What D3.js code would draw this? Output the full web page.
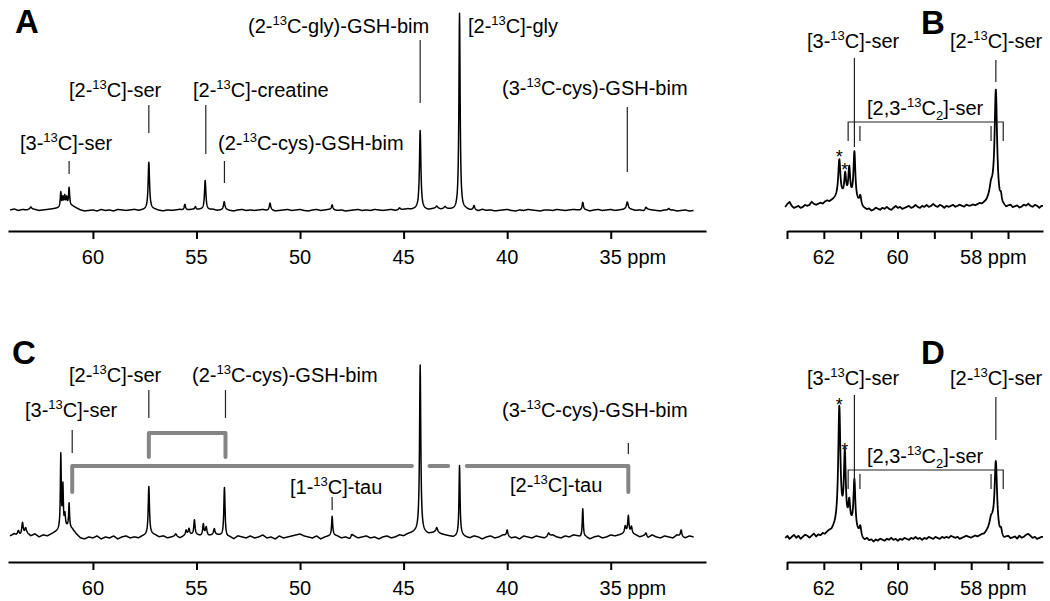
<!DOCTYPE html>
<html><head><meta charset="utf-8">
<script src="https://cdn.jsdelivr.net/npm/d3@7"></script>
<style>
body{margin:0;background:#fff}
svg{display:block}
text{font-family:"Liberation Sans",Arial,Helvetica,sans-serif;fill:#000}
</style>
</head><body>
<svg id="chart" width="1050" height="601"></svg>
<script>
// ---------------- DATA ----------------
const panelLetters = ["A", "B", "C", "D"];
const ticksWide = [60, 55, 50, 45, 40, 35];
const ticksNarrow = [63, 62, 61, 60, 59, 58, 57];
const tickLabelsNarrow = [62, 60, 58];

// peaks: [ppm, height, half-width (ppm)]
const peaksA = [
  [63.0, 2, 0.05], [61.55, 15, 0.03], [61.45, 9, 0.03], [61.36, 10, 0.03], [61.27, 8, 0.03], [61.15, 18, 0.03],
  [57.3, 47, 0.04], [55.56, 6, 0.04], [55.05, 3, 0.04], [54.58, 30, 0.04], [53.66, 8, 0.04],
  [51.45, 7, 0.04], [48.45, 5, 0.04], [45.2, 2, 0.05], [44.2, 78, 0.04], [43.4, 2, 0.06], [43.0, 2, 0.06],
  [42.3, 197, 0.035], [41.6, 4, 0.04], [36.35, 8, 0.04], [34.2, 7, 0.05], [33.3, 3, 0.05], [32.2, 2, 0.05]
];
const peaksC = [
  [63.6, 6, 0.05], [63.4, 12, 0.04], [63.25, 5, 0.04], [61.55, 74, 0.025], [61.45, 41, 0.025], [61.35, 12, 0.03],
  [61.15, 24, 0.025], [57.3, 48, 0.035], [56.0, 2, 0.05], [55.5, 5, 0.04], [55.36, 6, 0.04], [55.1, 15, 0.035],
  [54.67, 11, 0.035], [54.53, 8, 0.04], [54.14, 6, 0.04], [53.65, 50, 0.035], [48.45, 19, 0.03], [47.5, 3, 0.05],
  [44.2, 166, 0.035], [43.4, 4, 0.05], [42.3, 70, 0.03], [40.0, 6, 0.04], [38.0, 3, 0.05], [36.35, 29, 0.03],
  [34.3, 7, 0.04], [34.15, 17, 0.035], [34.0, 7, 0.04], [33.3, 4, 0.05], [31.6, 7, 0.04]
];
const peaksB = [
  [61.58, 38, 0.035], [61.42, 22, 0.03], [61.31, 29, 0.03], [61.17, 48, 0.03], [61.01, 9, 0.03],
  [57.46, 10, 0.05], [57.33, 110, 0.04], [57.19, 8, 0.03]
];
const peaksD = [
  [61.58, 118, 0.035], [61.43, 70, 0.03], [61.31, 22, 0.03], [61.17, 50, 0.03], [61.01, 10, 0.03],
  [57.46, 8, 0.05], [57.33, 70, 0.04], [57.19, 6, 0.03]
];

// baseline (noise) samples: A/C every 0.2 ppm from 64.0, B/D every 0.06 ppm from 63.0
const noiseA = [
  0, 1, -0.5, 0.5, 0, 1, 0.5, -0.5, 0, 0.5,
  1, 1.5, 2, 3, 4, 4, 2, 0, -1, -0.5,
  0, -1, 0.5, -0.5, 0, -1, 0.5, 0, -0.5, 0,
  0.5, -0.5, 0, 0.5, 1, 0.5, -0.5, -1, 0, -0.5,
  0, 0.5, -0.5, 0, 0.5, 0, 0.5, -0.5, 0, 0.5,
  -0.5, 0, 0.5, -0.5, -1, 0, 0.5, -0.5, 0, -0.5,
  0, 0.5, -0.5, 0, -1, -0.5, 0, 0.5, -0.5, 0,
  0.5, -0.5, -1, 0, 0.5, -0.5, 0, 0.5, 0, -0.5,
  0, -1, -0.5, 0, 0.5, -0.5, 0, -0.5, 0.5, 0,
  -0.5, 0, 0.5, -0.5, 0, 0.5, 1, 0.5, 1, 1.5,
  0.5, 0, 1, 1.5, 0.5, 1, 0.5, 0, -0.5, 0,
  0.5, -0.5, 0, -1, 0.5, -0.5, 0, -1, -0.5, 0,
  0.5, -0.5, -1, 0, -0.5, 0.5, 0, -0.5, -1, 0,
  0, -0.5, 0.5, 0, -0.5, 0, 0.5, 0, -0.5, 0,
  -1, 0, 0.5, -0.5, 0, 0.5, -0.5, 0, 0.5, 1,
  0.5, -0.5, 0, -1, 0.5, 0, -0.5, -1, 0, -0.5,
  0, -1, -0.5, 0, -1, -0.5
];
const noiseC = [
  1, 3, 0, 2, 4, 1, 3, 0, 2, 1,
  3, 5, 7, 9, 10, 8, 3, -1, -2, 0,
  -1, 1, -2, 0, -1, 1, -2, 0, 1, -1,
  0, -1, 1, 2, 3, 2, 0, 1, -1, 0,
  1, -1, 1, 2, 2, 2, 1, 2, 1, 2,
  2, 1, -1, 0, -2, 1, 0, -1, 1, -1,
  0, 2, -1, 0, -2, 1, -1, 0, 1, 2,
  3, 1, 0, -1, 1, -2, 0, 1, 2, 1,
  -1, 0, -2, 1, -1, 0, 1, -1, 0, -2,
  0, 1, -1, 0, 2, 1, 3, 4, 5, 6,
  4, 3, 4, 5, 3, 2, 1, 0, 1, 2,
  0, -1, 1, 0, -2, 0, 1, -1, 0, 2,
  1, -1, 0, -2, 1, 0, -1, 1, 0, -1,
  1, 2, 0, -1, 1, 0, 2, 1, -1, 0,
  -2, 0, 1, -1, 0, 2, 1, 2, 3, 4,
  3, 2, 0, 1, -1, 2, 0, -1, 1, 0,
  -1, 2, 0, -1, 1, 0
];
const noiseB = [
  0, 3, 5, 1, -1, 0, 1, -1, 0, 2, 1,
  2, 5, 3, 2, 3, 4, 3, 5, 6, 5,
  6, 7, 8, 8, 9, 9, 9, 8, 8, 7, 6, 5, 3,
  1, -1, -2, -3, -2, -4, -3, -1, -2, -3,
  -1, -2, 0, -2, -3, -1, 1, -1, 0, -2,
  -1, 0, 1, -1, 0, 2, 0, -1, 1, 0,
  2, 0, 1, 3, 1, 0, 2, 1, -1, 1,
  0, 1, 2, 0, 1, 2, 1, 0, 2, 1,
  1, 2, 1, 2, 3, 2, 3, 4, 6, 8,
  9, 7, 3, 0, -2, -1, -2, 0, 1, -1,
  0, 1, -1, 0, 2, 1, 3, 1, 0, 2, 1, -1, 1
];
const noiseD = [
  0, 2, -1, 1, 3, 0, 2, -1, 1, 3, 2,
  0, 2, 4, 1, 3, 2, 4, 3, 5, 6,
  6, 8, 9, 10, 12, 12, 11, 10, 10, 9, 7, 5, 3,
  0, -2, -3, -1, -3, -2, -4, -2, -3, -1,
  -2, -3, -1, -2, 0, -2, -1, -3, -1, -2,
  0, -1, -2, 0, -1, 1, -1, 0, -2, 0,
  -1, 1, 0, -1, 1, 0, -1, 1, 0, 1,
  0, 2, 1, 0, 1, -1, 0, 1, 2, 1,
  0, 1, 2, 1, 2, 3, 3, 5, 7, 9,
  10, 7, 3, 0, -1, -2, 0, 1, -1, 0,
  1, -1, 2, 0, 1, 3, 4, 2, 0, 1, -1, 0, 1
];

// annotations: text + ppm of marker line
const annotTextA = ["[3-^13^C]-ser", "[2-^13^C]-ser", "[2-^13^C]-creatine", "(2-^13^C-cys)-GSH-bim", "(2-^13^C-gly)-GSH-bim", "[2-^13^C]-gly", "(3-^13^C-cys)-GSH-bim"];
const annotPpmA = [61.15, 57.3, 54.55, 53.65, 44.2, null, 34.2];
const annotTextB = ["[3-^13^C]-ser", "[2-^13^C]-ser", "[2,3-^13^C_2_]-ser"];
const annotPpmB = [61.17, 57.33, null];
const annotTextC = ["[3-^13^C]-ser", "[2-^13^C]-ser", "(2-^13^C-cys)-GSH-bim", "[1-^13^C]-tau", "[2-^13^C]-tau", "(3-^13^C-cys)-GSH-bim"];
const annotPpmC = [61.0, 57.3, 53.6, 48.45, null, 34.15];
const doubletOuterPpm = [61.34, 57.13];
const doubletInnerPpm = [61.02, 57.46];
const starPpm = [61.58, 61.43];
const grayBracket1Ppm = [57.3, 53.6];
const grayBracket2Segments = [[61.0, 44.6], [43.75, 42.85], [41.95, 34.15]];

// ---------------- DRAWING ----------------
const svg = d3.select("#chart");

function richText(g, x, y, str, size) {
  const t = g.append("text").attr("x", x).attr("y", y).style("font-size", size + "px");
  const parts = str.split(/(\^[^^]+\^|_[^_]+_)/);
  let shift = 0;
  parts.forEach(p => {
    if (!p) return;
    let s = 0, txt = p, fs = null;
    if (p[0] === "^") { s = -8; txt = p.slice(1, -1); fs = 13; }
    else if (p[0] === "_") { s = 5; txt = p.slice(1, -1); fs = 13; }
    t.append("tspan").attr("dy", s - shift).style("font-size", fs ? fs + "px" : null).text(txt);
    shift = s;
  });
  return t;
}

function spectrum(g, x, y, peaks, noise, start, end, noiseStep, step, sw) {
  const pts = [];
  for (let p = start; p >= end - 1e-9; p -= step) {
    const fi = (start - p) / noiseStep;
    const i0 = Math.min(Math.floor(fi), noise.length - 1);
    const i1 = Math.min(i0 + 1, noise.length - 1);
    const f = fi - i0;
    let v = noise[i0] * (1 - f) + noise[i1] * f;
    peaks.forEach(([c, h, w]) => { const d = (p - c) / w; v += h / (1 + d * d); });
    pts.push([p, v]);
  }
  g.append("path")
    .datum(pts)
    .attr("fill", "none")
    .attr("stroke", "#000")
    .attr("stroke-width", sw)
    .attr("stroke-linejoin", "round")
    .attr("d", d3.line().x(d => x(d[0])).y(d => y(d[1])));
}

function axis(g, x, axisY, tickVals, labelVals, lastLabel) {
  const ax = g.append("g").attr("transform", `translate(0,${axisY})`)
    .call(d3.axisBottom(x).tickValues(tickVals).tickSize(8).tickSizeOuter(0).tickFormat(""));
  ax.select(".domain").attr("stroke", "#000").attr("stroke-width", 2);
  ax.selectAll(".tick line").attr("stroke", "#000").attr("stroke-width", 2);
  labelVals.forEach(v => {
    const t = g.append("text").attr("x", x(v)).attr("y", axisY + 33)
      .attr("text-anchor", "middle").style("font-size", "20px").text(v);
    if (v === lastLabel) {
      const w = t.node().getComputedTextLength();
      g.append("text").attr("x", x(v) + w / 2 + 5.5).attr("y", axisY + 33)
        .style("font-size", "20px").text("ppm");
    }
  });
}

function vline(g, x, y1, y2, color, width) {
  g.append("line").attr("x1", x).attr("x2", x).attr("y1", y1).attr("y2", y2)
    .attr("stroke", color || "#222").attr("stroke-width", width || 1.2);
}

function annotate(g, x, texts, ppms, layout) {
  texts.forEach((t, i) => {
    const L = layout[i];
    richText(g, L[0], L[1], t, 20);
    if (ppms[i] != null) vline(g, x(ppms[i]), L[2], L[3]);
  });
}

// wide panels (A, C)
const xWide = d3.scaleLinear().domain([64.1, 30.4]).range([8, 706]);
// narrow panels (B, D)
const xNarrow = d3.scaleLinear().domain([63.0, 56.05]).range([787, 1043]);

// Panel A
{
  const g = svg.append("g");
  const y = d3.scaleLinear().domain([0, 200]).range([210, 10]);
  spectrum(g, xWide, y, peaksA, noiseA, 64.0, 31.0, 0.2, 0.01, 1.5);
  axis(g, xWide, 231, ticksWide, ticksWide, 35);
  annotate(g, xWide, annotTextA, annotPpmA,
    [[20, 150, 161, 174], [69, 97, 105, 133], [193, 97, 105, 154], [218, 150, 161, 183],
     [248, 33, 40, 103], [468, 33], [502, 95, 107, 172]]);
}
// Panel C
{
  const g = svg.append("g");
  const y = d3.scaleLinear().domain([0, 200]).range([537, 337]);
  spectrum(g, xWide, y, peaksC, noiseC, 64.0, 31.0, 0.2, 0.01, 1.5);
  axis(g, xWide, 562, ticksWide, ticksWide, 35);
  annotate(g, xWide, annotTextC, annotPpmC,
    [[25, 417, 430, 453], [69, 382, 390, 418], [192, 382, 390, 418], [290, 494, 497, 510],
     [510, 492], [502, 417, 443, 454]]);
  const gray = "#858585";
  g.append("path")
    .attr("d", `M${xWide(grayBracket1Ppm[0])},457V433H${xWide(grayBracket1Ppm[1])}V457`)
    .attr("fill", "none").attr("stroke", gray).attr("stroke-width", 4)
    .attr("stroke-linecap", "round").attr("stroke-linejoin", "round");
  grayBracket2Segments.forEach((s, i) => {
    let d = `M${xWide(s[0])},466H${xWide(s[1])}`;
    if (i === 0) d = `M${xWide(s[0])},492V466H${xWide(s[1])}`;
    if (i === grayBracket2Segments.length - 1) d = `M${xWide(s[0])},466H${xWide(s[1])}V492`;
    g.append("path").attr("d", d).attr("fill", "none").attr("stroke", gray).attr("stroke-width", 4)
      .attr("stroke-linecap", "round").attr("stroke-linejoin", "round");
  });
}

function narrowPanel(peaks, noise, base, axisY, layout, brY, starY) {
  const g = svg.append("g");
  const y = d3.scaleLinear().domain([0, 200]).range([base, base - 200]);
  spectrum(g, xNarrow, y, peaks, noise, 63.05, 56.05, 0.06, 0.005, 1.8);
  axis(g, xNarrow, axisY, ticksNarrow, tickLabelsNarrow, 58);
  annotate(g, xNarrow, layout.texts, layout.ppms, layout.pos);
  // doublet bracket
  g.append("path")
    .attr("d", `M${xNarrow(doubletOuterPpm[0])},${brY + 19}V${brY}H${xNarrow(doubletOuterPpm[1])}V${brY + 19}`)
    .attr("fill", "none").attr("stroke", "#222").attr("stroke-width", 1.2);
  doubletInnerPpm.forEach(p => vline(g, xNarrow(p), brY + 4, brY + 19));
  starPpm.forEach((p, i) => {
    g.append("text").attr("x", xNarrow(p)).attr("y", starY[i]).attr("text-anchor", "middle")
      .style("font-size", "18px").text("*");
  });
}
narrowPanel(peaksB, noiseB, 207, 231,
  {texts: annotTextB, ppms: annotPpmB, pos: [[807, 48, 58, 147], [950, 48, 60, 82], [867, 115]]},
  122, [163, 176]);
narrowPanel(peaksD, noiseD, 538, 562,
  {texts: annotTextB, ppms: annotPpmB, pos: [[807, 385, 395, 482], [950, 385, 397, 440], [867, 463]]},
  470, [411, 456]);

// panel letters
const letterPos = [[15, 33], [921, 34], [12, 364], [921, 364]];
panelLetters.forEach((L, i) => {
  svg.append("text").attr("x", letterPos[i][0]).attr("y", letterPos[i][1])
    .style("font-size", "33px").style("font-weight", "bold").text(L);
});
</script>
</body></html>
